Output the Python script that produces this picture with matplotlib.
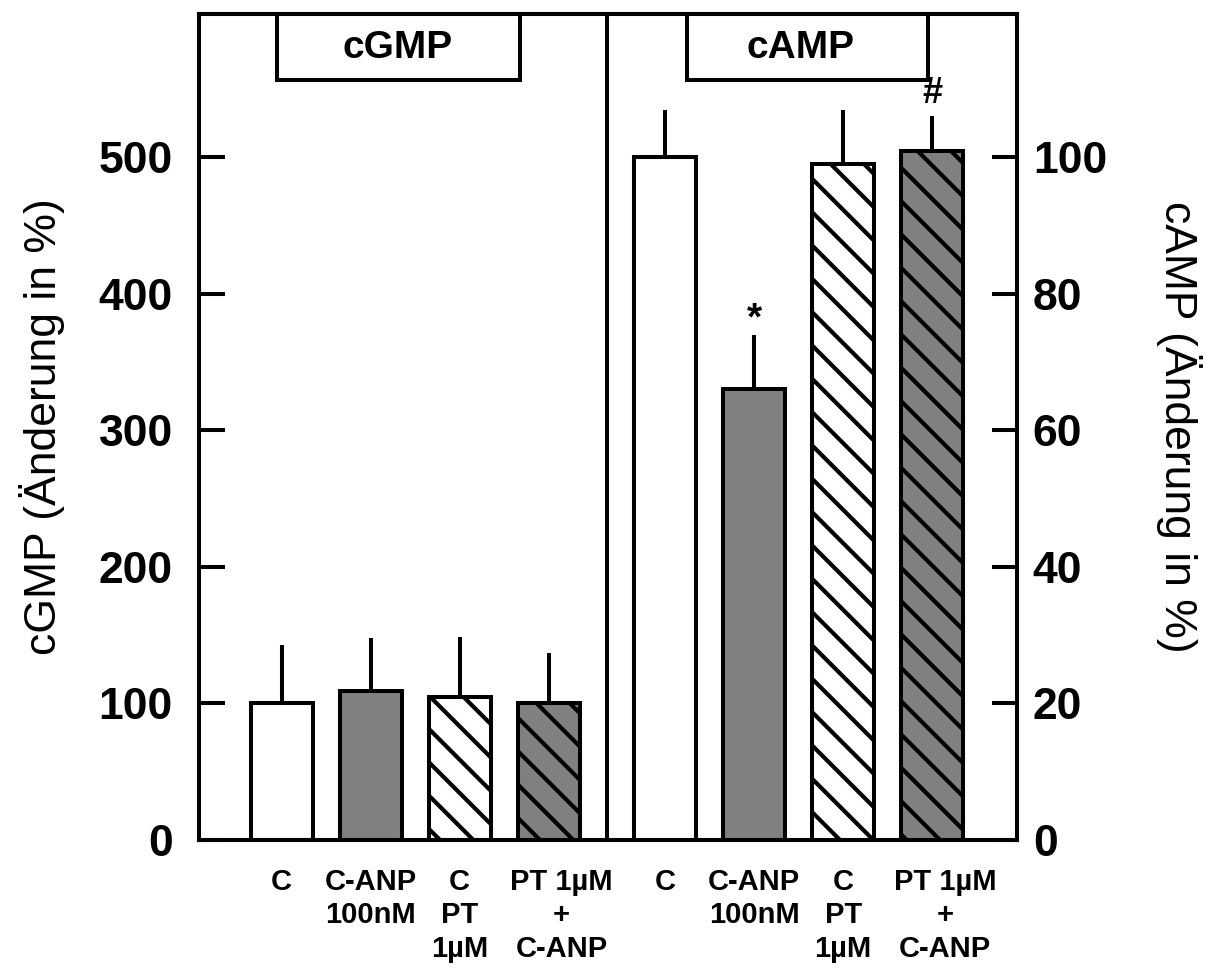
import numpy as np
import matplotlib
matplotlib.use("Agg")
from matplotlib import pyplot as plt
from matplotlib.patches import Rectangle
from matplotlib.transforms import ScaledTranslation

plt.rcParams['font.family'] = ['Liberation Sans', 'DejaVu Sans']
plt.rcParams['hatch.linewidth'] = 1.5

# treatments (same for both panels)
groups = ["C", "C-ANP\n100nM", "C\nPT\n1µM", "PT 1µM\n+\nC-ANP"]
fills = ["white", "#808080", "white", "#808080"]
hatches = [None, None, "\\\\", "\\\\"]

# cGMP, change in % (left axis)
cgmp_mean = [100, 109, 105, 100]
cgmp_err = [43, 39, 44, 37]

# cAMP, change in % (right axis)
camp_mean = [100, 66, 99, 101]
camp_err = [7, 8, 8, 5]
camp_marks = ["", "*", "", "#"]

lw = 1.45
x1 = np.arange(4)
x2 = np.arange(4) + 4.31

fig = plt.figure(figsize=(6.03, 4.86), dpi=200)
ax = fig.add_axes([0.165, 0.1358, 0.678, 0.8498])
ax2 = ax.twinx()

for i in range(4):
    ax.bar(x1[i], cgmp_mean[i], width=0.7, color=fills[i], edgecolor="black",
           linewidth=lw, hatch=hatches[i], zorder=2)
    ax2.bar(x2[i], camp_mean[i], width=0.7, color=fills[i], edgecolor="black",
            linewidth=lw, hatch=hatches[i], zorder=2)

ax.errorbar(x1, cgmp_mean, yerr=[np.zeros(4), cgmp_err], fmt="none",
            ecolor="black", elinewidth=lw, capsize=0, zorder=1)
ax2.errorbar(x2, camp_mean, yerr=[np.zeros(4), camp_err], fmt="none",
             ecolor="black", elinewidth=lw, capsize=0, zorder=1)

for xi, m, e, s in zip(x2, camp_mean, camp_err, camp_marks):
    if s == "*":
        ax2.annotate(s, (xi, m + e), xytext=(0, 2), textcoords="offset points",
                     ha="center", va="baseline", fontsize=14, fontweight="bold")
    elif s == "#":
        ax2.annotate(s, (xi, m + e), xytext=(0, 5), textcoords="offset points",
                     ha="center", va="baseline", fontsize=13, fontweight="bold")

ax.set_xlim(-0.93, 8.26)
ax.set_ylim(0, 605)
ax2.set_ylim(0, 121)
ax.axvline(3.66, color="black", linewidth=lw)

ax.set_yticks([0, 100, 200, 300, 400, 500])
ax2.set_yticks([0, 20, 40, 60, 80, 100])
ax.tick_params(axis="y", direction="in", length=9.4, width=lw, pad=9.4,
               labelsize=16, right=False)
ax2.tick_params(axis="y", direction="in", length=9, width=lw, pad=5.8,
                labelsize=16, left=False)
for t in ax.get_yticklabels() + ax2.get_yticklabels():
    t.set_fontweight("bold")

ax.set_xticks(np.concatenate([x1, x2]))
ax.set_xticklabels(groups + groups, fontsize=10.5, fontweight="bold",
                   linespacing=1.25, va="top")
ax.tick_params(axis="x", length=0, pad=10)
shift = ScaledTranslation(0.065, 0, fig.dpi_scale_trans)
for k in (3, 7):
    lab = ax.get_xticklabels()[k]
    lab.set_transform(lab.get_transform() + shift)

for a in (ax, ax2):
    for sp in a.spines.values():
        sp.set_linewidth(lw)

ax.set_ylabel("cGMP (Änderung in %)", fontsize=16, va="center")
ax.yaxis.set_label_coords(-0.192, 0.5)
ax2.set_ylabel("cAMP (Änderung in %)", fontsize=16, rotation=-90, va="center")
ax2.yaxis.set_label_coords(1.199, 0.5)

# panel headers
for x0, w, xc, name in [(0.0954, 0.297, 0.243, "cGMP"),
                        (0.5966, 0.2946, 0.7357, "cAMP")]:
    ax.add_patch(Rectangle((x0, 0.92), w, 0.08, transform=ax.transAxes,
                           facecolor="white", edgecolor="black", linewidth=lw,
                           zorder=4, clip_on=False))
    ax.text(xc, 0.959, name, transform=ax.transAxes, ha="center", va="center",
            fontsize=14, fontweight="bold", zorder=5)

fig.savefig("out.png", dpi=200)
